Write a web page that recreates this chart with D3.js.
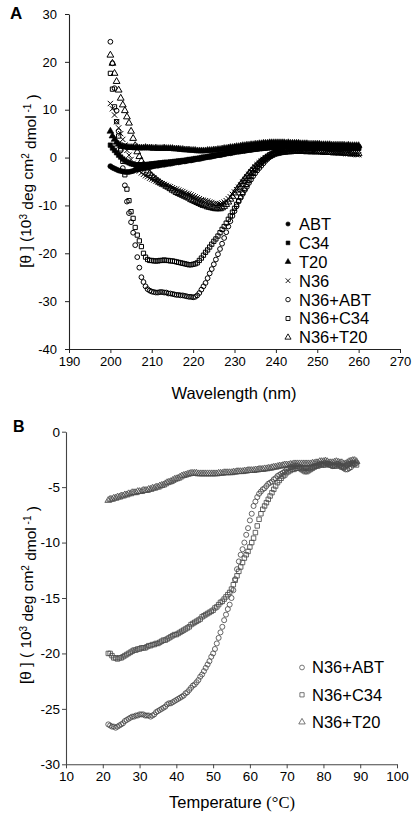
<!DOCTYPE html>
<html><head><meta charset="utf-8">
<script src="https://cdn.jsdelivr.net/npm/d3@7"></script>
<style>
body{margin:0;background:#fff;}
svg{display:block;font-family:"Liberation Sans",Arial,sans-serif;}
</style>
</head><body>
<svg id="c" width="415" height="815"></svg>
<script>
// ---------- Panel A data (wavelength 200..260 nm, 0.5 nm step) ----------
const wavelengths = d3.range(200, 260.001, 0.5);
const xTicksA = [190,200,210,220,230,240,250,260,270];
const yTicksA = [-40,-30,-20,-10,0,10,20,30];

const cdABT = [-1.8,-2.1,-2.3,-2.5,-2.7,-2.8,-2.9,-3.0,-3.0,-3.0,
 -2.9,-2.8,-2.6,-2.5,-2.4,-2.3,-2.2,-2.1,-2.0,-2.0,
 -1.9,-1.8,-1.7,-1.7,-1.6,-1.5,-1.5,-1.4,-1.3,-1.3,
 -1.2,-1.1,-1.0,-1.0,-0.9,-0.8,-0.8,-0.7,-0.6,-0.6,
 -0.5,-0.4,-0.3,-0.3,-0.2,-0.1,0.0,0.1,0.1,0.2,
 0.3,0.4,0.5,0.5,0.6,0.7,0.8,0.9,0.9,1.0,
 1.1,1.2,1.2,1.3,1.4,1.4,1.5,1.6,1.6,1.7,
 1.8,1.8,1.9,1.9,2.0,2.0,2.1,2.1,2.1,2.2,
 2.2,2.2,2.3,2.3,2.3,2.4,2.4,2.4,2.4,2.5,
 2.5,2.5,2.5,2.5,2.5,2.5,2.5,2.6,2.5,2.5,
 2.5,2.5,2.4,2.5,2.4,2.4,2.4,2.4,2.4,2.4,
 2.4,2.4,2.4,2.3,2.4,2.3,2.3,2.3,2.3,2.3,
 2.3];
const cdC34 = [2.6,2.0,1.5,1.0,0.5,0.1,-0.3,-0.6,-0.9,-1.1,
 -1.3,-1.4,-1.5,-1.5,-1.5,-1.5,-1.5,-1.5,-1.4,-1.4,
 -1.3,-1.3,-1.2,-1.2,-1.1,-1.1,-1.0,-1.0,-1.0,-0.9,
 -0.9,-0.8,-0.8,-0.7,-0.7,-0.6,-0.6,-0.5,-0.4,-0.4,
 -0.3,-0.2,-0.2,-0.1,0.0,0.1,0.1,0.2,0.3,0.4,
 0.5,0.5,0.6,0.7,0.7,0.8,0.9,1.0,1.0,1.1,
 1.2,1.3,1.3,1.4,1.4,1.5,1.6,1.6,1.7,1.7,
 1.8,1.8,1.9,1.9,2.0,2.0,2.0,2.1,2.1,2.1,
 2.2,2.2,2.2,2.2,2.3,2.3,2.3,2.3,2.3,2.3,
 2.3,2.3,2.3,2.3,2.3,2.2,2.2,2.2,2.2,2.2,
 2.2,2.2,2.2,2.2,2.1,2.2,2.1,2.1,2.1,2.1,
 2.1,2.1,2.1,2.0,2.1,2.0,2.0,2.0,2.0,2.0,
 2.0];
const cdT20 = [5.5,4.5,3.8,3.2,2.8,2.5,2.3,2.2,2.2,2.1,
 2.1,2.1,2.0,2.1,2.0,2.0,2.0,2.1,2.0,2.0,
 2.0,1.9,2.0,1.9,1.9,1.9,2.0,1.9,1.9,1.9,
 1.9,1.8,1.8,1.8,1.7,1.7,1.6,1.6,1.6,1.5,
 1.5,1.5,1.4,1.4,1.4,1.4,1.4,1.5,1.5,1.5,
 1.6,1.6,1.7,1.7,1.8,1.9,1.9,2.0,2.1,2.1,
 2.2,2.3,2.3,2.4,2.5,2.5,2.6,2.6,2.7,2.7,
 2.8,2.8,2.9,2.9,3.0,3.0,3.0,3.1,3.1,3.1,
 3.1,3.1,3.1,3.1,3.1,3.0,3.1,3.0,3.0,3.0,
 3.0,3.0,2.9,2.9,2.9,2.9,2.8,2.8,2.8,2.8,
 2.8,2.8,2.7,2.7,2.7,2.7,2.7,2.6,2.6,2.6,
 2.6,2.6,2.6,2.6,2.5,2.6,2.5,2.5,2.5,2.5,
 2.5];
const cdN36 = [11.3,10.2,8.9,7.5,6.2,5.0,3.8,2.6,1.5,0.5,
 -0.4,-1.2,-1.9,-2.4,-2.8,-3.2,-3.5,-3.8,-4.0,-4.3,
 -4.5,-4.7,-4.9,-5.1,-5.3,-5.5,-5.6,-5.8,-6.0,-6.1,
 -6.3,-6.5,-6.6,-6.8,-7.0,-7.1,-7.3,-7.5,-7.6,-7.8,
 -8.0,-8.2,-8.4,-8.6,-8.8,-8.9,-9.0,-9.1,-9.3,-9.4,
 -9.6,-9.6,-9.7,-9.7,-9.5,-9.3,-9.0,-8.6,-8.2,-7.7,
 -7.2,-6.7,-6.2,-5.7,-5.1,-4.6,-4.0,-3.5,-3.0,-2.5,
 -2.0,-1.5,-1.1,-0.7,-0.4,-0.1,0.2,0.4,0.6,0.8,
 0.9,1.0,1.1,1.2,1.3,1.3,1.4,1.4,1.5,1.5,
 1.5,1.5,1.5,1.5,1.5,1.5,1.5,1.5,1.4,1.4,
 1.3,1.3,1.2,1.2,1.2,1.1,1.1,1.1,1.0,1.0,
 1.0,1.0,0.9,0.9,0.8,0.8,0.7,0.7,0.7,0.6,
 0.6];
const cdN36ABT = [24.2,19.7,14.5,9.8,5.5,1.5,-2.2,-5.8,-9.2,-11.6,
 -13.5,-15.7,-18.3,-20.8,-23.0,-25.0,-26.0,-26.9,-27.5,-27.8,
 -28.0,-28.1,-28.2,-28.2,-28.1,-28.1,-28.2,-28.2,-28.4,-28.4,
 -28.5,-28.6,-28.7,-28.7,-28.8,-28.8,-28.9,-29.0,-29.1,-29.1,
 -29.2,-29.1,-28.8,-28.3,-27.6,-26.9,-26.2,-25.2,-24.2,-23.3,
 -22.3,-21.3,-20.2,-19.1,-18.0,-16.8,-15.6,-14.4,-13.3,-12.2,
 -11.2,-10.2,-9.2,-8.4,-7.6,-6.8,-6.1,-5.3,-4.6,-3.9,
 -3.3,-2.7,-2.2,-1.7,-1.2,-0.7,-0.3,0.1,0.4,0.7,
 1.0,1.2,1.4,1.5,1.7,1.8,1.9,1.9,2.0,2.0,
 2.0,2.1,2.1,2.1,2.1,2.2,2.2,2.2,2.2,2.2,
 2.2,2.2,2.2,2.2,2.2,2.2,2.2,2.2,2.2,2.2,
 2.2,2.2,2.1,2.2,2.1,2.1,2.1,2.1,2.1,2.1,
 2.1];
const cdN36C34 = [17.6,14.3,10.6,7.5,4.5,1.8,-0.8,-3.6,-6.6,-9.0,
 -11.3,-12.7,-14.6,-16.2,-17.4,-18.6,-20.0,-20.8,-21.3,-21.5,
 -21.5,-21.6,-21.6,-21.6,-21.5,-21.5,-21.4,-21.5,-21.5,-21.6,
 -21.6,-21.7,-21.8,-21.9,-22.0,-22.1,-22.2,-22.3,-22.4,-22.4,
 -22.3,-22.2,-22.0,-21.5,-21.0,-20.4,-19.8,-19.3,-18.7,-18.1,
 -17.5,-17.0,-16.4,-15.7,-15.0,-14.4,-13.7,-12.9,-12.2,-11.4,
 -10.6,-9.8,-9.0,-8.2,-7.3,-6.5,-5.6,-4.8,-4.0,-3.3,
 -2.6,-2.0,-1.4,-0.9,-0.5,-0.1,0.3,0.6,0.8,1.0,
 1.2,1.3,1.4,1.5,1.6,1.7,1.7,1.8,1.8,1.9,
 1.9,1.9,1.9,2.0,2.0,2.0,2.0,2.0,2.0,2.0,
 2.0,2.0,2.0,2.0,2.0,2.0,2.0,2.0,2.0,2.0,
 2.0,2.0,2.0,1.9,1.9,1.9,1.9,1.9,1.9,1.9,
 1.9];
const cdN36T20 = [21.4,19.7,17.6,15.9,14.1,12.4,11.0,9.8,8.5,7.2,
 5.5,4.0,2.5,1.2,0.2,-0.7,-1.5,-2.2,-2.8,-3.3,
 -3.8,-4.2,-4.5,-4.9,-5.2,-5.5,-5.7,-6.0,-6.2,-6.5,
 -6.8,-7.0,-7.3,-7.5,-7.7,-7.9,-8.1,-8.3,-8.5,-8.8,
 -9.0,-9.2,-9.4,-9.6,-9.8,-10.0,-10.1,-10.3,-10.4,-10.5,
 -10.6,-10.7,-10.7,-10.7,-10.5,-10.2,-9.8,-9.3,-8.7,-8.1,
 -7.4,-6.8,-6.2,-5.6,-5.0,-4.4,-3.9,-3.3,-2.8,-2.3,
 -1.9,-1.5,-1.1,-0.7,-0.4,-0.1,0.1,0.3,0.5,0.7,
 0.8,0.9,1.0,1.1,1.1,1.2,1.2,1.2,1.3,1.3,
 1.3,1.3,1.3,1.3,1.3,1.2,1.3,1.2,1.2,1.2,
 1.2,1.2,1.2,1.1,1.1,1.1,1.1,1.1,1.0,1.0,
 1.0,1.0,1.0,0.9,0.9,0.9,0.9,0.8,0.8,0.8,
 0.8];

// ---------- Panel B data (temperature 21.5..89 °C, 0.5 °C step) ----------
const temperatures = d3.range(21.5, 89.001, 0.5);
const xTicksB = [10,20,30,40,50,60,70,80,90,100];
const yTicksB = [-30,-25,-20,-15,-10,-5,0];

const tmN36ABT = [-26.4,-26.5,-26.6,-26.6,-26.7,-26.6,-26.5,
 -26.4,-26.3,-26.1,-26.0,-25.9,-25.8,-25.7,-25.7,-25.6,-25.6,
 -25.5,-25.5,-25.5,-25.6,-25.6,-25.6,-25.7,-25.6,-25.5,-25.3,
 -25.2,-25.1,-25.0,-24.9,-24.8,-24.6,-24.5,-24.5,-24.4,-24.3,
 -24.2,-24.1,-24.0,-23.9,-23.8,-23.6,-23.5,-23.3,-23.1,-22.9,
 -22.8,-22.6,-22.4,-22.1,-21.9,-21.6,-21.3,-21.0,-20.7,-20.3,
 -20.0,-19.6,-19.1,-18.6,-18.1,-17.6,-17.0,-16.5,-16.0,-15.6,
 -15.0,-14.3,-13.3,-12.4,-11.7,-11.1,-10.6,-10.0,-9.3,-8.7,
 -8.0,-7.4,-6.7,-6.3,-5.9,-5.6,-5.4,-5.2,-5.1,-4.9,
 -4.7,-4.6,-4.5,-4.3,-4.2,-4.0,-3.9,-3.8,-3.7,-3.6,
 -3.4,-3.3,-3.2,-3.2,-3.1,-3.1,-3.1,-3.2,-3.2,-3.3,
 -3.3,-3.3,-3.3,-3.2,-3.2,-3.1,-3.1,-3.0,-2.9,-2.9,
 -2.9,-2.8,-2.9,-3.0,-3.0,-3.1,-3.0,-2.9,-2.9,-3.0,
 -3.1,-3.3,-3.4,-3.4,-3.3,-3.2,-3.0,-2.9,-2.8];
const tmN36C34 = [-20.0,-20.0,-20.2,-20.4,-20.4,-20.5,-20.4,
 -20.4,-20.3,-20.2,-20.1,-20.0,-19.9,-19.8,-19.7,-19.7,-19.6,
 -19.6,-19.5,-19.5,-19.5,-19.4,-19.3,-19.3,-19.2,-19.2,-19.1,
 -19.1,-19.0,-18.9,-18.8,-18.8,-18.7,-18.6,-18.5,-18.4,-18.3,
 -18.3,-18.2,-18.1,-18.0,-17.9,-17.8,-17.7,-17.6,-17.4,-17.3,
 -17.2,-17.1,-17.0,-16.9,-16.7,-16.6,-16.5,-16.4,-16.3,-16.2,
 -16.1,-15.9,-15.8,-15.6,-15.4,-15.3,-15.1,-14.9,-14.7,-14.5,
 -14.2,-13.8,-13.4,-13.0,-12.6,-12.2,-11.8,-11.4,-11.1,-10.8,
 -10.4,-10.0,-9.6,-9.1,-8.5,-7.9,-7.4,-7.0,-6.7,-6.4,
 -6.1,-5.8,-5.5,-5.2,-4.9,-4.6,-4.4,-4.2,-4.0,-3.9,
 -3.7,-3.6,-3.5,-3.4,-3.4,-3.3,-3.3,-3.3,-3.4,-3.5,
 -3.6,-3.6,-3.5,-3.4,-3.3,-3.2,-3.1,-3.1,-3.0,-3.0,
 -3.0,-3.0,-2.9,-2.9,-3.0,-3.1,-3.1,-3.1,-3.0,-3.1,
 -3.2,-3.2,-3.1,-3.0,-2.9,-2.9,-2.8,-2.9,-3.0];
const tmN36T20 = [-6.2,-6.1,-6.1,-6.0,-6.0,-5.9,-5.9,
 -5.8,-5.8,-5.7,-5.7,-5.6,-5.6,-5.5,-5.5,-5.5,-5.4,
 -5.4,-5.4,-5.3,-5.3,-5.3,-5.2,-5.2,-5.1,-5.1,-5.0,
 -5.0,-4.9,-4.85,-4.8,-4.7,-4.6,-4.55,-4.5,-4.4,-4.3,
 -4.25,-4.2,-4.1,-4.0,-3.95,-3.9,-3.85,-3.8,-3.75,-3.75,
 -3.75,-3.75,-3.8,-3.8,-3.8,-3.8,-3.8,-3.8,-3.8,-3.8,
 -3.8,-3.8,-3.8,-3.75,-3.75,-3.75,-3.7,-3.7,-3.7,-3.7,
 -3.7,-3.65,-3.65,-3.6,-3.6,-3.6,-3.6,-3.55,-3.55,-3.5,
 -3.5,-3.5,-3.5,-3.45,-3.45,-3.4,-3.4,-3.4,-3.35,-3.35,
 -3.3,-3.3,-3.25,-3.2,-3.2,-3.15,-3.1,-3.1,-3.05,-3.0,
 -3.0,-3.0,-2.95,-2.95,-2.9,-2.9,-2.9,-2.9,-2.9,-2.9,
 -2.9,-2.9,-2.9,-2.9,-2.85,-2.85,-2.8,-2.8,-2.7,-2.7,
 -2.7,-2.65,-2.7,-2.8,-2.8,-2.8,-2.75,-2.7,-2.75,-2.8,
 -2.8,-2.9,-2.9,-2.8,-2.7,-2.65,-2.6,-2.6,-2.7];

const seriesA = [
  {name:"ABT", values:cdABT, type:d3.symbolCircle, size:20, filled:true},
  {name:"C34", values:cdC34, type:d3.symbolSquare, size:20, filled:true},
  {name:"T20", values:cdT20, type:d3.symbolTriangle, size:20, filled:true},
  {name:"N36", values:cdN36, type:d3.symbolTimes, size:20, filled:false},
  {name:"N36+ABT", values:cdN36ABT, type:d3.symbolCircle, size:18, filled:false},
  {name:"N36+C34", values:cdN36C34, type:d3.symbolSquare, size:18, filled:false},
  {name:"N36+T20", values:cdN36T20, type:d3.symbolTriangle, size:20, filled:false}
];
const seriesB = [
  {name:"N36+ABT", values:tmN36ABT, type:d3.symbolCircle, size:20},
  {name:"N36+C34", values:tmN36C34, type:d3.symbolSquare, size:20},
  {name:"N36+T20", values:tmN36T20, type:d3.symbolTriangle, size:20}
];

const svg = d3.select("#c");
const fmt = d => String(d);

function styleAxis(g, color, fs){
  g.select(".domain").attr("stroke", color).attr("stroke-width", 1.1);
  g.selectAll(".tick line").attr("stroke", color).attr("stroke-width", 1);
  g.selectAll(".tick text").attr("fill", "#000").attr("font-size", fs)
    .attr("font-family", '"Liberation Sans",Arial,sans-serif');
}

// ================= Panel A =================
const xA = d3.scaleLinear().domain([190,270]).range([69,400]);
const yA = d3.scaleLinear().domain([-40,30]).range([349,14]);
const gA = svg.append("g");

gA.append("g").attr("transform","translate(0,349)")
  .call(d3.axisBottom(xA).tickValues(xTicksA).tickFormat(fmt).tickSize(4).tickPadding(4).tickSizeOuter(0))
  .call(g => styleAxis(g, "#222", 13));
gA.append("g").attr("transform","translate(69,0)")
  .call(d3.axisLeft(yA).tickValues(yTicksA).tickFormat(fmt).tickSize(4).tickPadding(8).tickSizeOuter(0))
  .call(g => styleAxis(g, "#222", 13));

seriesA.forEach(s => {
  gA.append("g").selectAll("path")
    .data(wavelengths.map((w,i) => [w, s.values[i]]))
    .join("path")
    .attr("transform", d => `translate(${xA(d[0])},${yA(d[1])})`)
    .attr("d", d3.symbol().type(s.type).size(s.size)())
    .attr("fill", s.filled ? "#000" : "none")
    .attr("stroke", "#000")
    .attr("stroke-width", s.filled ? 0.6 : 1);
});

// legend A
const legA = gA.append("g");
seriesA.forEach((s,i) => {
  const y = 224 + i*18.9;
  legA.append("path").attr("transform", `translate(288,${y})`)
    .attr("d", d3.symbol().type(s.type).size(s.filled ? 14 : 16)())
    .attr("fill", s.filled ? "#000" : "none").attr("stroke","#000").attr("stroke-width", s.filled?0.6:0.9);
  legA.append("text").attr("x", 299).attr("y", y).attr("dy","0.36em")
    .attr("font-size", 16.5).attr("fill","#000").text(s.name);
});

// axis title A
svg.append("text").attr("x", 234).attr("y", 399).attr("text-anchor","middle")
  .attr("font-size", 16.5).attr("fill","#000").text("Wavelength (nm)");

function yTitle(cx, cy, openPart){
  const t = svg.append("text").attr("transform", `translate(${cx},${cy}) rotate(-90)`)
    .attr("text-anchor","middle").attr("font-size", 15.5).attr("fill","#000");
  t.append("tspan").text(openPart);
  t.append("tspan").attr("dy","-0.45em").attr("font-size", 10).text("3");
  t.append("tspan").attr("dy","0.45em").text(" deg cm");
  t.append("tspan").attr("dy","-0.45em").attr("font-size", 10).text("2");
  t.append("tspan").attr("dy","0.45em").text(" dmol");
  t.append("tspan").attr("dy","-0.45em").attr("font-size", 10).text(" -1");
  t.append("tspan").attr("dy","0.45em").text(" )");
}
yTitle(31, 181, "[θ ] (10");

svg.append("text").attr("x", 10).attr("y", 19).attr("font-size", 17).attr("font-weight","bold").text("A");

// ================= Panel B =================
const xB = d3.scaleLinear().domain([10,100]).range([66,397]);
const yB = d3.scaleLinear().domain([-30,0]).range([764.3,431.7]);
const gB = svg.append("g");

gB.append("g").attr("transform","translate(0,764.3)")
  .call(d3.axisBottom(xB).tickValues(xTicksB).tickFormat(fmt).tickSize(4).tickPadding(3).tickSizeOuter(0))
  .call(g => styleAxis(g, "#444", 13.5));
gB.append("g").attr("transform","translate(66,0)")
  .call(d3.axisLeft(yB).tickValues(yTicksB).tickFormat(fmt).tickSize(4).tickPadding(2).tickSizeOuter(0))
  .call(g => styleAxis(g, "#444", 13.5));

seriesB.forEach(s => {
  gB.append("g").selectAll("path")
    .data(temperatures.map((t,i) => [t, s.values[i]]))
    .join("path")
    .attr("transform", d => `translate(${xB(d[0])},${yB(d[1])})`)
    .attr("d", d3.symbol().type(s.type).size(s.size)())
    .attr("fill", "none").attr("stroke", "#4a4a4a").attr("stroke-width", 0.85);
});

const legB = gB.append("g");
seriesB.forEach((s,i) => {
  const y = 667.5 + i*27.3;
  legB.append("path").attr("transform", `translate(302,${y})`)
    .attr("d", d3.symbol().type(s.type).size(18)())
    .attr("fill","none").attr("stroke","#555").attr("stroke-width",0.8);
  legB.append("text").attr("x", 312).attr("y", y).attr("dy","0.36em")
    .attr("font-size", 16.5).attr("fill","#000").text(s.name);
});

const xtB = svg.append("text").attr("x", 232).attr("y", 808).attr("text-anchor","middle")
  .attr("font-size", 16.5).attr("fill","#000");
xtB.append("tspan").text("Temperature ");
xtB.append("tspan").attr("font-family",'"Liberation Serif","Times New Roman",serif').text("(°C)");

yTitle(31, 595, "[θ ] ( 10");

svg.append("text").attr("x", 13).attr("y", 432).attr("font-size", 16).attr("font-weight","bold").text("B");
</script>
</body></html>
